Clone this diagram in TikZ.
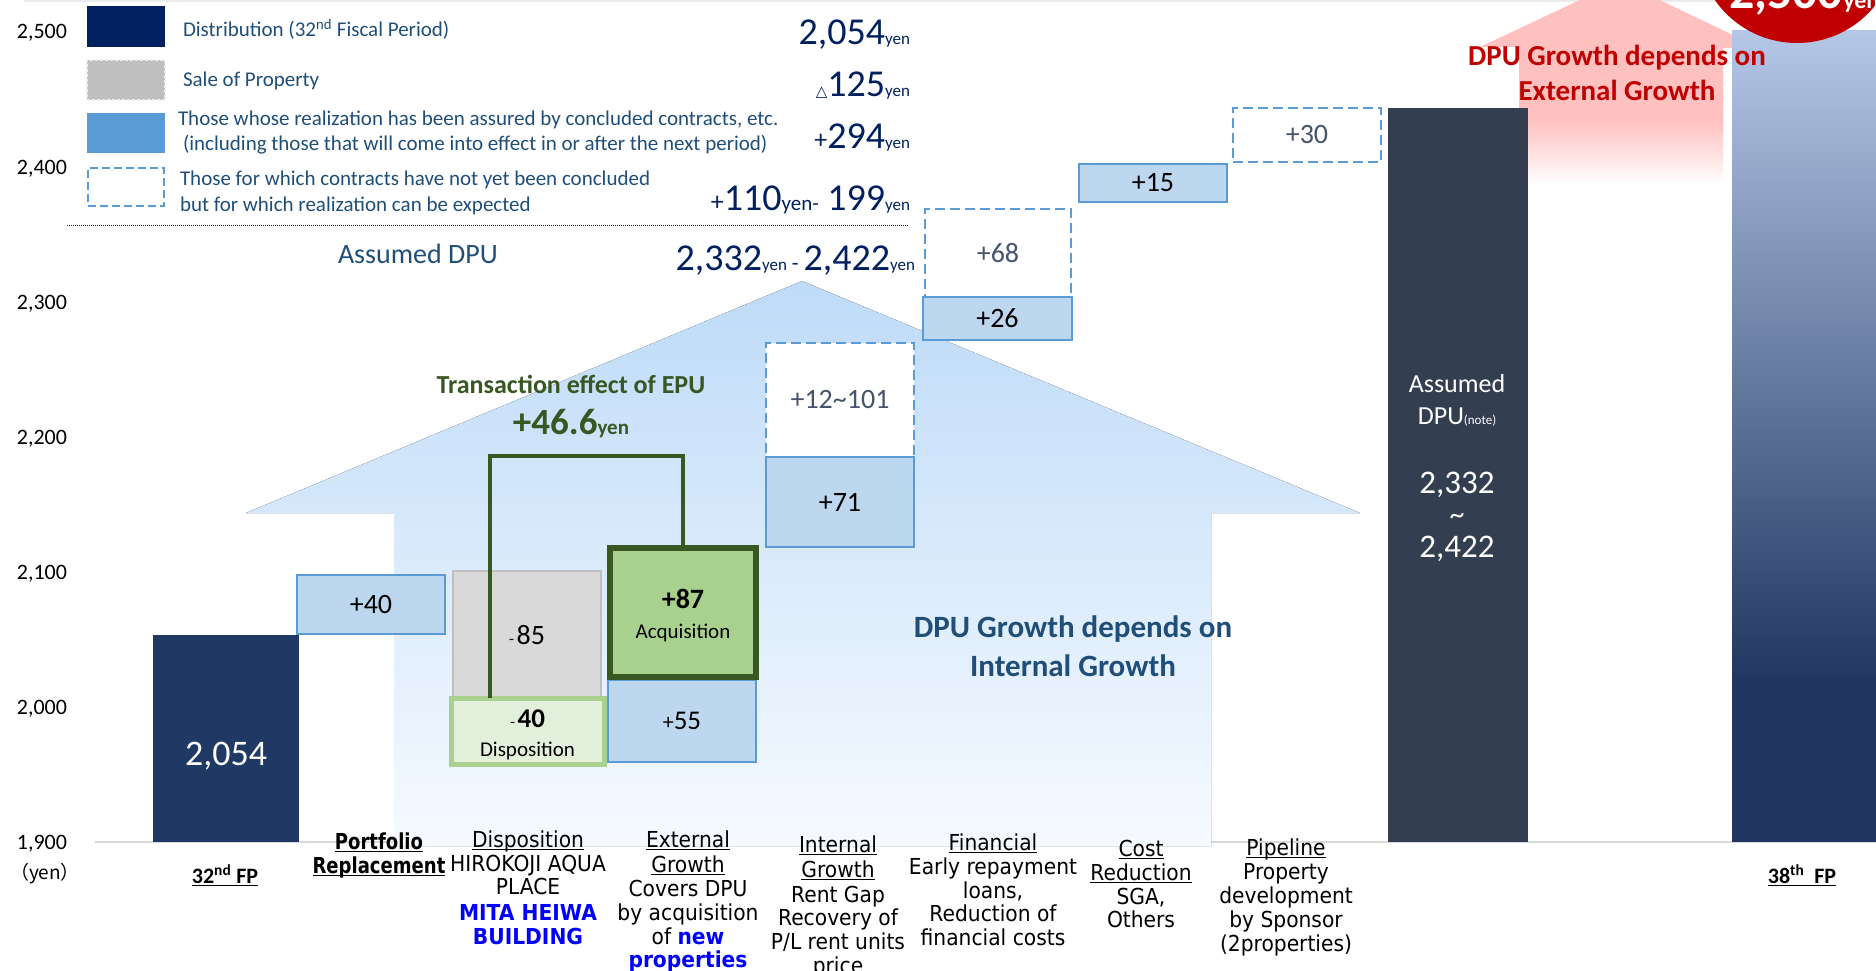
\documentclass[tikz,border=0pt]{standalone}
\usepackage{fontspec}
\setmainfont{Carlito}
\newfontfamily\dv{DejaVu Sans}[FakeStretch=0.92]
\newfontfamily\dvn{DejaVu Sans}[FakeStretch=0.82]
\newfontfamily\dvsym{DejaVu Sans}
\newfontfamily\cjk{Noto Sans CJK JP}
\definecolor{navy}{RGB}{0,32,96}
\definecolor{legtxt}{RGB}{31,78,121}
\definecolor{barnavy}{RGB}{32,56,100}
\definecolor{slate}{RGB}{51,63,80}
\definecolor{bfill}{RGB}{189,215,238}
\definecolor{bbord}{RGB}{91,155,213}
\definecolor{gfill}{RGB}{217,217,217}
\definecolor{gbord}{RGB}{191,191,191}
\definecolor{lgfill}{RGB}{226,239,218}
\definecolor{lgbord}{RGB}{169,209,142}
\definecolor{dgfill}{RGB}{169,209,142}
\definecolor{dgbord}{RGB}{56,87,35}
\definecolor{grayblue}{RGB}{68,84,106}
\definecolor{redc}{RGB}{192,0,0}
\definecolor{pinkc}{RGB}{255,192,192}
\definecolor{houset}{RGB}{190,219,248}
\definecolor{houseb}{RGB}{246,250,255}
\definecolor{bartop}{RGB}{180,199,231}
\definecolor{barbot}{RGB}{32,54,96}
\definecolor{axisg}{RGB}{217,217,217}
\definecolor{pureblue}{RGB}{0,0,255}
\newcommand\fs[1]{\fontsize{#1}{#1}\selectfont}
\newcommand\ulu[1]{\leavevmode\setbox0=\hbox{#1}\rlap{\rule[-2.8pt]{\wd0}{1.3pt}}\copy0}
\newcommand\bx[7]{\node[#6,minimum width={(#4-#2)*1pt},minimum height={(#5-#3)*1pt}] (#1) at ({(#2+#4)/2},{(#3+#5)/2}) {#7};}
\newcommand\lb[4]{\node[lbl] (#1) at (#2,#3) {#4};}
\tikzset{
  every node/.style={inner sep=0pt,outer sep=0pt},
  bxs/.style={draw=bbord,fill=bfill,line width=2.5pt,font=\fs{28}},
  bxd/.style={draw=bbord,fill=white,line width=2.5pt,dash pattern=on 10pt off 5pt,font=\fs{28},text=grayblue},
  bxg/.style={draw=gbord,fill=gfill,line width=2.5pt,font=\fs{28}},
  bxlg/.style={draw=lgbord,fill=lgfill,line width=5pt},
  bxdg/.style={draw=dgbord,fill=dgfill,line width=6pt},
  lbl/.style={font=\dv\fs{22},anchor=base},
  leg/.style={font=\fs{21},text=legtxt,anchor=base west},
  numt/.style={text=navy,anchor=base east},
  yt/.style={font=\fs{22},anchor=base east},
  bartxt/.style={text=white,anchor=base},
  bracket/.style={draw=dgbord,line width=4pt},
}
\begin{document}
\begin{tikzpicture}[x=1pt,y=-1pt]
\useasboundingbox (0,0) rectangle (1876,971);
% frame lines
\coordinate (tl1) at (24,1); \coordinate (tl2) at (1876,1);
\draw[gray!15,line width=1.5pt] (tl1) -- (tl2);
\coordinate (ax1) at (95,842); \coordinate (ax2) at (1876,842);
\draw[axisg,line width=2pt] (ax1) -- (ax2);
% blue house
\fill[top color=houset,bottom color=houseb] (246,513) -- (802,281) -- (1360,513) -- (1211,513) -- (1211,846) -- (394,846) -- (394,513) -- cycle;
% pink arrow
\fill[pinkc] (1480,47) -- (1620,-19) -- (1760,48) -- (1723,48) -- (1723,121) -- (1519,121) -- (1519,47) -- cycle;
\fill[top color=pinkc,bottom color=white] (1519,120) rectangle (1723,184);
% legend boxes
\bx{k1}{87}{6}{165}{47}{fill=navy}{}
\bx{k2}{87}{60}{165}{100}{fill=gbord,draw=white!75!gbord,line width=1.5pt,dash pattern=on 3pt off 2pt}{}
\bx{k3}{87}{113}{165}{153}{fill=bbord}{}
\bx{k4}{88}{168}{164}{206}{draw=bbord,fill=white,line width=2.5pt,dash pattern=on 8pt off 4pt}{}
% legend texts
\node[leg] (l1) at (183,37) {Distribution (32\textsuperscript{nd} Fiscal Period)};
\node[leg] (l2) at (183,87) {Sale of Property};
\node[leg] (l3) at (178,125) {Those whose realization has been assured by concluded contracts, etc.};
\node[leg] (l4) at (183,150) {(including those that will come into effect in or after the next period)};
\node[leg] (l5) at (180,185) {Those for which contracts have not yet been concluded};
\node[leg] (l6) at (180,211) {but for which realization can be expected};
\node[numt] (n1) at (910,45) {\fs{38}2,054\fs{17}yen};
\node[numt] (n2) at (910,97) {{\dvsym\fs{15}△}\fs{38}125\fs{17}yen};
\node[numt] (n3) at (910,149) {\fs{26}+\fs{38}294\fs{17}yen};
\node[numt] (n4) at (910,210) {\fs{26}+\fs{38}110\fs{21}yen-\fs{38} 199\fs{17}yen};
\coordinate (dl1) at (67,225); \coordinate (dl2) at (908,225);
\draw[navy,line width=1pt,dash pattern=on 1pt off 1pt] (dl1) -- (dl2);
\node[anchor=base west,text=legtxt,font=\fs{28}] (adpu) at (338,263) {Assumed DPU};
\node[numt] (n5) at (915,270) {\fs{38}2,332\fs{17}yen\fs{22} - \fs{38}2,422\fs{17}yen};
% y axis
\node[yt] (y25) at (67,39) {2,500};
\node[yt] (y24) at (67,174) {2,400};
\node[yt] (y23) at (67,309) {2,300};
\node[yt] (y22) at (67,444) {2,200};
\node[yt] (y21) at (67,579) {2,100};
\node[yt] (y20) at (67,714) {2,000};
\node[yt] (y19) at (67,849) {1,900};
\node[anchor=base,font=\cjk\fs{19}] (yen) at (45,879) {（yen）};
% bars
\bx{fp32}{153}{635}{299}{842}{fill=barnavy}{}
\node[bartxt,font=\fs{36}] (fp32v) at (226,765) {2,054};
\bx{dpu}{1388}{108}{1528}{842}{fill=slate}{}
\node[bartxt,font=\fs{26}] (dpu1) at (1457,392) {Assumed};
\node[bartxt,font=\fs{26}] (dpu2) at (1457,424) {DPU{\fs{13}(note)}};
\node[bartxt,font=\fs{33}] (dpu3) at (1457,493) {2,332};
\node[bartxt,font=\fs{30}] (dpu4) at (1457,524) {\textasciitilde};
\node[bartxt,font=\fs{33}] (dpu5) at (1457,557) {2,422};
% step boxes
\bx{b40}{297}{575}{445}{634}{bxs}{+40}
\bx{b85}{453}{571}{601}{700}{bxg}{{\fs{16}-\,}85}
\coordinate (brL) at (490,456);
\bx{b55}{608}{680}{756}{762}{bxs}{{\fs{22}+}\fs{27}55}
\bx{d40}{451}{698}{604}{764}{bxlg}{}
\node[anchor=base,font=\fs{27}] (d40a) at (527.5,727) {{\fs{16}-\,}\textbf{40}};
\node[anchor=base,font=\fs{21}] (d40b) at (527.5,756) {Disposition};
\bx{a87}{610}{548}{756}{677}{bxdg}{}
\node[anchor=base,font=\fs{28}\bfseries] (a87a) at (683,608) {+87};
\node[anchor=base,font=\fs{21}] (a87b) at (683,638) {Acquisition};
\draw[bracket] (d40.north -| brL) -- (brL) -- (brL -| a87.north) -- (a87.north);
\bx{b12}{766}{343}{914}{457}{bxd}{+12\textasciitilde101}
\bx{b71}{766}{457}{914}{547}{bxs}{+71}
\bx{b68}{925}{209}{1071}{297}{bxd}{+68}
\bx{b26}{923}{297}{1072}{340}{bxs}{+26}
\bx{b15}{1079}{164}{1227}{202}{bxs}{+15}
\bx{b30}{1233}{108}{1381}{162}{bxd}{+30}
% transaction effect
\node[anchor=base,text=dgbord,font=\fs{26}\bfseries] (te1) at (571,393) {Transaction effect of EPU};
\node[anchor=base,text=dgbord,font=\fs{37}\bfseries] (te2) at (571,434) {+46.6\fs{21}yen};
% internal growth
\node[anchor=base,text=legtxt,font=\fs{31}\bfseries] (ig1) at (1073,637) {DPU Growth depends on};
\node[anchor=base,text=legtxt,font=\fs{31}\bfseries] (ig2) at (1073,676) {Internal Growth};
% bottom labels
\node[anchor=base,font=\fs{22}\bfseries] (fp32l) at (225,883) {\ulu{32\textsuperscript{nd} FP}};
\node[anchor=base,font=\fs{22}\bfseries] (fp38l) at (1802,883) {\ulu{38\textsuperscript{th}\ \ FP}};
\node[anchor=base,font=\dvn\fs{22}\bfseries] (pr1) at (379,849) {\ulu{Portfolio}};
\node[anchor=base,font=\dvn\fs{22}\bfseries] (pr2) at (379,873) {\ulu{Replacement}};
\lb{ds1}{528}{847}{\ulu{Disposition}}
\lb{ds2}{528}{871}{HIROKOJI AQUA}
\lb{ds3}{528}{894}{PLACE}
\lb{ds4}{528}{920}{\textcolor{pureblue}{\bfseries MITA HEIWA}}
\lb{ds5}{528}{944}{\textcolor{pureblue}{\bfseries BUILDING}}
\lb{eg1}{688}{847}{\ulu{External}}
\lb{eg2}{688}{872}{\ulu{Growth}}
\lb{eg3}{688}{896}{Covers DPU}
\lb{eg4}{688}{920}{by acquisition}
\lb{eg5}{688}{944}{of \textcolor{pureblue}{\bfseries new}}
\lb{eg6}{688}{967}{\textcolor{pureblue}{\bfseries properties}}
\lb{in1}{838}{852}{\ulu{Internal}}
\lb{in2}{838}{877}{\ulu{Growth}}
\lb{in3}{838}{902}{Rent Gap}
\lb{in4}{838}{925}{Recovery of}
\lb{in5}{838}{949}{P/L rent units}
\lb{in6}{838}{973}{price}
\lb{fi1}{993}{850}{\ulu{Financial}}
\lb{fi2}{993}{874}{Early repayment}
\lb{fi3}{993}{898}{loans,}
\lb{fi4}{993}{921}{Reduction of}
\lb{fi5}{993}{945}{financial costs}
\lb{co1}{1141}{856}{\ulu{Cost}}
\lb{co2}{1141}{880}{\ulu{Reduction}}
\lb{co3}{1141}{904}{SGA,}
\lb{co4}{1141}{927}{Others}
\lb{pi1}{1286}{855}{\ulu{Pipeline}}
\lb{pi2}{1286}{879}{Property}
\lb{pi3}{1286}{903}{development}
\lb{pi4}{1286}{927}{by Sponsor}
\lb{pi5}{1286}{951}{(2properties)}
% 38th FP bar
\fill[top color=bartop,bottom color=barbot] (1732,31) rectangle (1880,684);
\fill[barbot] (1732,683) rectangle (1880,842);
% external growth text
\node[anchor=base,text=redc,font=\fs{29}\bfseries] (ex1) at (1617,66) {DPU Growth depends on};
\node[anchor=base,text=redc,font=\fs{29}\bfseries] (ex2) at (1617,101) {External Growth};
% red circle
\fill[redc] (1797,-57) circle[radius=100pt];
\node[anchor=base west,text=white,font=\fs{50}\bfseries] (circt) at (1729,9) {2,500\fs{24}yen};
\end{tikzpicture}
\end{document}
